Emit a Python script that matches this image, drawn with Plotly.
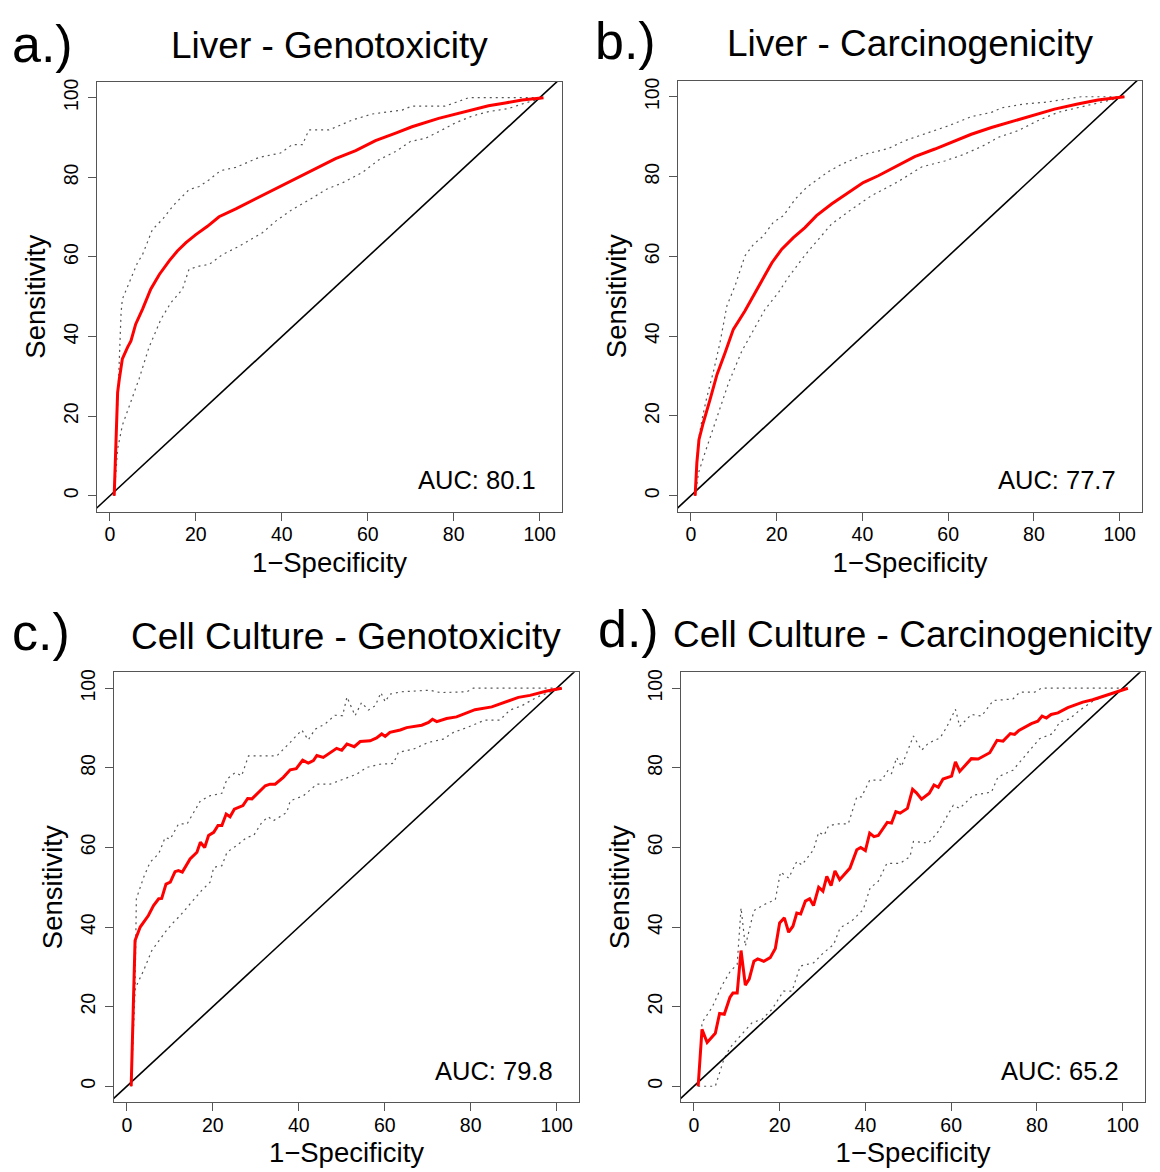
import plotly.graph_objects as go

FONT = "Liberation Sans, Arial, Helvetica, sans-serif"

TITLES = ["Liver - Genotoxicity", "Liver - Carcinogenicity",
          "Cell Culture - Genotoxicity", "Cell Culture - Carcinogenicity"]
PANEL_LABELS = ["a.)", "b.)", "c.)", "d.)"]
AUC_VALUES = [80.1, 77.7, 79.8, 65.2]
TICKS = [0, 20, 40, 60, 80, 100]
X_TITLE = "1\u2212Specificity"
Y_TITLE = "Sensitivity"
CHANCE = [-10, 110]   # chance line y = x

# ---------- a.) Liver - Genotoxicity ----------
A_ROC_X = [1.0, 1.4, 1.8, 2.2, 2.9, 4.1, 4.9, 6.0, 7.6, 9.5, 11.5, 13.8, 15.7, 17.7, 20.0, 22.7, 25.4, 29.3,
           33.9, 38.6, 43.2, 47.9, 52.5, 57.2, 61.8, 66.5, 70.3, 76.5, 80.4, 84.3, 88.1, 92.0, 95.9, 100.9]
A_ROC_Y = [0, 12.7, 26.0, 29.4, 34.4, 37.3, 38.9, 43.1, 46.9, 51.9, 55.6, 59.0, 61.5, 63.6, 65.6, 67.7, 70.1, 72.1,
           74.6, 77.1, 79.6, 82.3, 84.7, 86.7, 89.2, 91.1, 92.7, 94.8, 95.9, 97.1, 98.0, 98.7, 99.4, 100]
A_HI_X = [1, 1.4, 1.8, 2.2, 2.6, 2.9, 4.5, 6.4, 7.6, 9.9, 12.2, 14.9, 18.4, 20.8, 23.1, 25.8, 29.3, 34.7, 39.7,
          42.4, 44.8, 46.3, 51.0, 56.4, 61.0, 68.0, 70.3, 78.0, 80.4, 83.5, 100.9]
A_HI_Y = [0, 11.0, 26.0, 37.7, 46.0, 49.4, 53.5, 58.5, 60.6, 66.9, 69.4, 73.1, 76.9, 77.7, 79.4, 81.7, 82.5, 85.0, 86.1,
          88.2, 88.2, 91.9, 91.9, 94.4, 95.9, 96.9, 97.9, 97.9, 98.8, 100, 100]
A_LO_X = [1, 1.8, 2.9, 4.5, 6.8, 9.1, 11.9, 14.2, 16.9, 18.4, 20.8, 23.1, 26.2, 30.1, 35.5, 38.6, 42.4, 47.1, 50.2,
          54.1, 58.7, 62.6, 66.5, 69.9, 73.4, 77.3, 80.4, 84.3, 88.1, 92.8, 96.7, 100.9]
A_LO_Y = [0, 11.8, 17.7, 22.7, 29.4, 37.3, 44.4, 48.5, 51.9, 56.9, 57.7, 58.1, 60.6, 62.7, 66.1, 69.0, 71.9, 74.8, 76.9,
          78.6, 81.2, 84.4, 86.5, 89.0, 89.8, 91.9, 93.7, 95.4, 96.5, 97.3, 98.7, 100]

# ---------- b.) Liver - Carcinogenicity ----------
B_ROC_X = [1.0, 1.4, 1.9, 2.9, 4.5, 6.1, 8.0, 9.9, 12.6, 15.0, 16.9, 18.9, 21.2, 23.9, 26.6, 29.3, 32.8, 36.7, 40.2,
           43.7, 48.3, 52.2, 56.9, 60.7, 65.4, 70.1, 74.7, 79.4, 84.8, 90.2, 94.9, 101.1]
B_ROC_Y = [0, 8.3, 14.1, 18.3, 24.2, 30.4, 35.9, 41.7, 46.3, 50.9, 54.7, 58.4, 61.8, 64.7, 67.2, 70.2, 73.1, 76.0, 78.5,
           80.2, 82.7, 85.0, 86.9, 88.5, 90.6, 92.3, 93.8, 95.2, 96.9, 98.2, 99.2, 100]
B_HI_X = [1, 1.4, 1.8, 2.6, 3.7, 5.3, 6.8, 8.4, 10.3, 12.6, 14.6, 16.9, 19.2, 21.6, 24.3, 27.0, 32.0, 35.2, 40.6,
          46.0, 49.9, 54.5, 60.0, 65.4, 70.1, 72.4, 77.8, 82.5, 91.0, 101.1]
B_HI_Y = [0, 9.1, 14.1, 19.1, 24.6, 31.3, 38.4, 47.6, 52.6, 60.1, 63.0, 65.1, 68.5, 70.2, 74.3, 77.3, 81.2, 83.1, 85.6,
          87.0, 89.0, 90.6, 92.7, 95.0, 96.1, 97.2, 98.2, 98.6, 100, 100]
B_LO_X = [1, 1.8, 3.3, 5.7, 8.8, 11.9, 15.0, 17.3, 20.4, 22.7, 26.6, 29.7, 32.8, 37.5, 42.1, 48.3, 53.8, 59.2, 63.8,
          68.5, 71.6, 76.3, 80.9, 85.6, 90.2, 94.9, 101.1]
B_LO_Y = [0, 5.8, 10.8, 18.3, 28.3, 36.3, 42.1, 46.7, 50.9, 54.7, 60.3, 64.1, 68.1, 71.8, 75.2, 78.7, 82.4, 83.9, 85.6,
          87.9, 89.8, 91.5, 94.0, 96.1, 97.3, 98.4, 100]

# ---------- c.) Cell Culture - Genotoxicity ----------
C_ROC_X = [1.0, 1.9, 3.1, 5.0, 6.2, 7.4, 8.1, 9.1, 10.1, 11.2, 12.0, 12.9, 14.7, 16.3, 17.1, 18.1, 19.0, 20.2, 21.2,
           22.1, 23.1, 24.0, 25.0, 27.0, 28.1, 29.1, 32.2, 33.3, 34.5, 36.4, 38.0, 39.4, 40.9, 42.2, 43.4, 44.2,
           45.7, 47.3, 48.8, 50.0, 51.2, 52.9, 54.3, 56.6, 58.1, 59.3, 60.1, 61.2, 63.6, 65.1, 68.6, 70.2, 71.1,
           72.1, 74.4, 76.7, 78.7, 81.0, 84.9, 88.4, 91.1, 93.8, 97.7, 101.2]
C_ROC_Y = [0, 36.6, 40.0, 42.9, 45.4, 47.1, 47.2, 50.8, 51.3, 53.9, 54.2, 53.8, 57.1, 58.8, 61.3, 60.0, 63.0, 63.8, 65.5,
           65.5, 68.4, 67.7, 69.6, 70.5, 72.3, 72.2, 75.5, 75.9, 75.9, 77.6, 79.5, 79.8, 81.9, 81.2, 81.8, 83.1,
           82.6, 83.9, 84.9, 84.4, 86.0, 85.3, 86.6, 86.8, 87.5, 88.5, 87.9, 88.9, 89.5, 90.1, 90.7, 91.4, 92.2,
           91.6, 92.4, 92.8, 93.6, 94.6, 95.3, 96.7, 97.7, 98.2, 99.3, 100]
C_HI_X = [1, 1.9, 2.2, 3.9, 5.4, 7.4, 8.9, 10.1, 12.0, 14.0, 17.1, 19.4, 22.1, 23.3, 25.2, 26.7, 28.3, 34.9, 38.0,
          40.7, 42.2, 43.8, 46.1, 48.4, 50.2, 51.2, 53.1, 54.6, 56.2, 57.8, 59.1, 60.1, 61.2, 63.9, 70.5, 72.9,
          79.1, 80.6, 101.2]
C_HI_Y = [0, 24.1, 47.1, 52.5, 56.3, 58.4, 62.5, 62.1, 65.9, 65.9, 71.7, 73.0, 73.6, 77.2, 78.8, 78.0, 83.0, 83.0, 86.4,
          89.5, 87.0, 89.7, 91.0, 93.2, 93.1, 97.8, 93.1, 96.4, 94.5, 95.6, 98.9, 96.6, 98.5, 99.1, 99.5, 98.9,
          99.1, 100, 100]
C_LO_X = [1, 1.6, 1.9, 3.9, 5.8, 7.4, 8.9, 10.5, 12.4, 14.7, 17.4, 19.4, 20.2, 22.1, 23.3, 25.6, 27.9, 29.5, 31.4,
          32.9, 34.1, 37.2, 38.0, 41.1, 44.2, 47.3, 51.2, 53.5, 55.8, 58.9, 62.0, 63.2, 66.7, 70.2, 73.6, 76.0,
          79.1, 83.3, 86.8, 89.1, 91.9, 95.3, 98.1, 101.2]
C_LO_Y = [0, 20.7, 24.5, 29.1, 34.1, 36.6, 38.7, 40.8, 42.9, 45.8, 49.2, 51.3, 55.0, 55.4, 58.8, 60.5, 62.5, 63.0, 66.3,
          67.7, 66.7, 68.8, 71.7, 73.0, 75.9, 75.9, 77.6, 78.4, 80.1, 80.9, 81.1, 83.9, 84.7, 86.4, 87.2, 88.9,
          90.1, 92.0, 92.0, 94.5, 95.6, 97.7, 98.9, 100]

# ---------- d.) Cell Culture - Carcinogenicity ----------
D_ROC_X = [1.0, 1.9, 3.1, 5.0, 6.0, 7.1, 8.4, 9.1, 10.1, 11.0, 12.0, 12.9, 14.0, 14.9, 16.3, 17.8, 19.0, 20.0, 21.1,
           22.1, 23.1, 24.0, 24.9, 26.0, 27.0, 27.9, 29.1, 30.1, 31.0, 32.0, 32.9, 34.0, 36.4, 38.0, 38.9, 40.0,
           41.0, 42.0, 43.0, 45.1, 46.1, 47.1, 48.1, 49.8, 51.0, 51.9, 53.1, 54.9, 56.0, 57.0, 58.1, 60.1, 61.0,
           62.0, 64.7, 66.3, 69.0, 70.7, 72.1, 73.8, 74.8, 75.8, 78.7, 80.2, 81.2, 82.2, 83.3, 84.9, 87.2, 90.7,
           93.0, 96.1, 98.8, 101.2]
D_ROC_Y = [0, 14.3, 11.0, 13.3, 18.3, 18.1, 22.3, 23.4, 23.4, 34.1, 25.4, 26.9, 31.4, 32.0, 31.4, 32.3, 34.6, 41.0, 42.3,
           38.7, 40.2, 43.5, 43.3, 46.5, 47.1, 45.4, 50.0, 49.0, 52.7, 50.4, 54.1, 51.9, 54.8, 59.4, 60.0, 59.2,
           63.6, 62.7, 63.0, 66.3, 66.1, 69.0, 68.6, 69.8, 74.6, 73.7, 72.1, 73.6, 75.7, 75.1, 77.2, 77.9, 81.5,
           79.1, 82.3, 82.2, 83.8, 86.9, 86.7, 88.6, 88.4, 89.4, 91.1, 91.7, 93.0, 92.5, 93.4, 93.8, 95.1, 96.5,
           97.1, 98.2, 99.0, 100]
D_HI_X = [1, 1.9, 4.3, 6.6, 8.5, 10.1, 11.0, 12.0, 14.0, 16.3, 19.0, 20.2, 22.1, 24.0, 25.2, 27.9, 29.1, 30.4, 31.4,
          33.3, 36.0, 38.0, 39.1, 41.0, 43.8, 45.3, 46.1, 47.3, 48.4, 51.2, 53.1, 54.7, 57.4, 58.9, 61.0, 62.0,
          64.7, 67.1, 69.8, 74.4, 76.0, 79.5, 81.0, 101.2]
D_HI_Y = [0, 16.0, 19.9, 25.4, 28.9, 30.6, 44.8, 35.2, 44.1, 45.6, 46.9, 53.8, 52.3, 56.5, 55.6, 59.4, 63.8, 63.1, 65.4,
          65.9, 65.9, 72.7, 72.7, 76.9, 76.9, 79.4, 78.6, 82.6, 80.3, 88.0, 84.4, 86.2, 87.5, 90.1, 94.7, 90.4,
          93.4, 93.0, 96.9, 97.3, 99.0, 99.0, 100, 100]
D_LO_X = [1, 5.0, 7.0, 8.5, 11.2, 13.6, 15.9, 18.2, 20.9, 22.9, 24.8, 27.9, 30.2, 32.6, 34.1, 36.8, 39.5, 41.1, 43.0,
          45.0, 48.1, 50.4, 51.2, 54.7, 57.0, 60.5, 62.0, 65.1, 69.4, 70.9, 74.4, 76.7, 80.6, 83.7, 85.3, 87.6,
          89.9, 93.0, 96.1, 101.2]
D_LO_Y = [0, 0, 6.8, 9.8, 13.1, 16.0, 16.8, 19.3, 23.9, 23.9, 30.2, 31.0, 33.5, 35.6, 39.8, 41.5, 44.4, 49.8, 51.5,
          56.0, 56.0, 57.7, 61.5, 61.1, 64.0, 70.6, 69.8, 73.1, 73.9, 77.7, 79.4, 82.3, 87.3, 88.6, 91.5, 92.3,
          94.4, 96.7, 98.2, 100]

PANELS = [
    (A_ROC_X, A_ROC_Y, A_HI_X, A_HI_Y, A_LO_X, A_LO_Y),
    (B_ROC_X, B_ROC_Y, B_HI_X, B_HI_Y, B_LO_X, B_LO_Y),
    (C_ROC_X, C_ROC_Y, C_HI_X, C_HI_Y, C_LO_X, C_LO_Y),
    (D_ROC_X, D_ROC_Y, D_HI_X, D_HI_Y, D_LO_X, D_LO_Y),
]

W, H = 1160, 1172
# plot boxes in pixels (left, right, top, bottom)
BOXES = [(97, 562, 79, 510), (678, 1142, 78, 510), (114, 579, 671, 1102), (681, 1145, 671, 1102)]
TITLE_Y = [43, 41, 635, 633]
LABEL_POS = [(42, 41), (625, 38), (41, 631), (628, 628)]

fig = go.Figure()
layout = dict(width=W, height=H, margin=dict(l=0, r=0, t=0, b=0),
              paper_bgcolor="white", plot_bgcolor="white", showlegend=False,
              font=dict(family=FONT, color="black"))
annotations = []

for i, (rx, ry, hx, hy, lx, ly) in enumerate(PANELS):
    n = i + 1
    xa = "x" if n == 1 else f"x{n}"
    ya = "y" if n == 1 else f"y{n}"
    for xs, ys in ((hx, hy), (lx, ly)):
        fig.add_trace(go.Scatter(x=xs, y=ys, mode="lines", xaxis=xa, yaxis=ya,
                                 line=dict(color="#555555", width=1.2, dash="2px,4px"), hoverinfo="skip"))
    fig.add_trace(go.Scatter(x=CHANCE, y=CHANCE, mode="lines", xaxis=xa, yaxis=ya,
                             line=dict(color="black", width=1.6), hoverinfo="skip"))
    fig.add_trace(go.Scatter(x=rx, y=ry, mode="lines", xaxis=xa, yaxis=ya,
                             line=dict(color="#ff0000", width=3, shape="linear"), hoverinfo="skip"))

    l, r, t, b = BOXES[i]
    common = dict(showgrid=False, zeroline=False, showline=True, mirror=True,
                  linecolor="#555555", linewidth=1.2, ticks="outside", ticklen=8,
                  tickwidth=1, tickcolor="#555555", tickvals=TICKS,
                  tickfont=dict(family=FONT, size=19.5, color="black"))
    layout["xaxis" if n == 1 else f"xaxis{n}"] = dict(
        common, domain=[l / W, r / W], range=[-3.0, 105.2], anchor=ya,
        ticklabelstandoff=-3,
        title=dict(text=X_TITLE, font=dict(family=FONT, size=27.5, color="black"), standoff=8))
    layout["yaxis" if n == 1 else f"yaxis{n}"] = dict(
        common, domain=[1 - b / H, 1 - t / H], range=[-4, 104], anchor=xa, tickangle=-90,
        ticklabelstandoff=2,
        title=dict(text=Y_TITLE, font=dict(family=FONT, size=27.5, color="black"), standoff=6))

    annotations.append(dict(text=TITLES[i], xref="paper", yref="paper",
                            x=(l + r) / 2 / W, y=1 - TITLE_Y[i] / H, xanchor="center", yanchor="middle",
                            showarrow=False, font=dict(family=FONT, size=37, color="black")))
    px, py = LABEL_POS[i]
    annotations.append(dict(text=PANEL_LABELS[i], xref="paper", yref="paper",
                            x=px / W, y=1 - py / H, xanchor="center", yanchor="middle",
                            showarrow=False, font=dict(family=FONT, size=52, color="black")))
    annotations.append(dict(text=f"AUC: {AUC_VALUES[i]}", xref=xa, yref=ya,
                            x=99.6, y=3.9, xanchor="right", yanchor="middle",
                            showarrow=False, font=dict(family=FONT, size=25.5, color="black")))

layout["annotations"] = annotations
fig.update_layout(**layout)
fig.write_html("out.html")
